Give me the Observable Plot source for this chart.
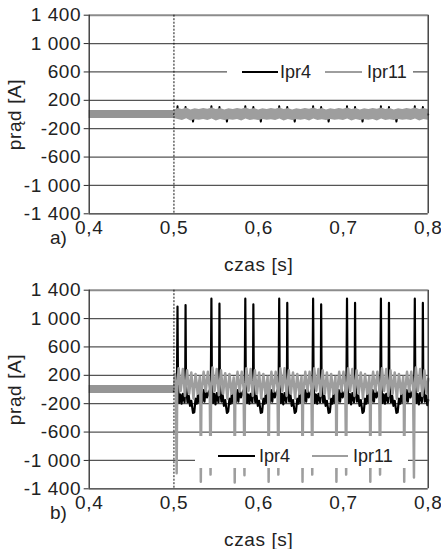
<!DOCTYPE html>
<html><head><meta charset="utf-8">
<script src="https://cdn.jsdelivr.net/npm/d3@7"></script>
<script src="https://cdn.jsdelivr.net/npm/@observablehq/plot@0.6"></script>
<style>
body{margin:0;background:#fff;font-family:"Liberation Sans",Arial,sans-serif;}
#wrap{position:relative;width:441px;height:549px;overflow:hidden;}
.panel{position:absolute;left:0;}
.lg{position:absolute;background:#fff;}
.sw{position:absolute;height:0;}
.tx{position:absolute;font-size:18px;color:#222;line-height:18px;white-space:nowrap;}
</style></head><body><div id="wrap"></div>
<script>
// ---- axis ticks ----
const xTicks = [0.4, 0.5, 0.6, 0.7, 0.8];
const xTickLabels = ["0,4", "0,5", "0,6", "0,7", "0,8"];
const yTicks = [-1400, -1000, -600, -200, 200, 600, 1000, 1400];
const yTickLabels = ["-1 400", "-1 000", "-600", "-200", "200", "600", "1 000", "1 400"];
const seriesNames = ["Ipr4", "Ipr11"];
const panelTags = ["a)", "b)"];
const switchTime = [0.5];

// ---- before switching: both currents form a narrow band (t, upper, lower) ----
const preBandT = [0.400, 0.500];
const preBandHi = [55, 55];
const preBandLo = [-55, -55];

// ---- panel a) Ipr11 band after switching (t, upper, lower) ----
const a11T = [0.500,0.505,0.510,0.515,0.520,0.525,0.530,0.535,0.540,0.545,0.550,0.555,0.560,0.565,0.570,0.575,0.580,0.585,0.590,0.595,0.600,0.605,0.610,0.615,0.620,0.625,0.630,0.635,0.640,0.645,0.650,0.655,0.660,0.665,0.670,0.675,0.680,0.685,0.690,0.695,0.700,0.705,0.710,0.715,0.720,0.725,0.730,0.735,0.740,0.745,0.750,0.755,0.760,0.765,0.770,0.775,0.780,0.785,0.790,0.795,0.800];
const a11Hi = [55,85,70,90,65,80,70,85,75,90,70,85,65,80,70,85,75,90,70,85,65,80,70,85,75,90,70,85,65,80,70,85,75,90,70,85,65,80,70,85,75,90,70,85,65,80,70,85,75,90,70,85,65,80,70,85,75,90,70,85,70];
const a11Lo = [-55,-70,-85,-60,-90,-75,-80,-70,-85,-65,-90,-70,-85,-75,-80,-70,-90,-65,-85,-75,-85,-70,-80,-75,-85,-65,-90,-70,-85,-75,-80,-70,-90,-65,-85,-75,-85,-70,-80,-75,-85,-65,-90,-70,-85,-75,-80,-70,-90,-65,-85,-75,-85,-70,-80,-75,-85,-65,-90,-70,-80];

// ---- panel a) Ipr4 (t, value) ----
const a4 = [[0.5000,0],[0.5038,0],[0.5042,115],[0.5046,0],[0.5133,0],[0.5137,105],[0.5141,0],[0.5215,-20],[0.5225,-100],[0.5235,-20],
[0.5438,0],[0.5442,115],[0.5446,0],[0.5533,0],[0.5537,105],[0.5541,0],[0.5615,-20],[0.5625,-100],[0.5635,-20],
[0.5838,0],[0.5842,115],[0.5846,0],[0.5933,0],[0.5937,105],[0.5941,0],[0.6015,-20],[0.6025,-100],[0.6035,-20],
[0.6238,0],[0.6242,115],[0.6246,0],[0.6333,0],[0.6337,105],[0.6341,0],[0.6415,-20],[0.6425,-100],[0.6435,-20],
[0.6638,0],[0.6642,115],[0.6646,0],[0.6733,0],[0.6737,105],[0.6741,0],[0.6815,-20],[0.6825,-100],[0.6835,-20],
[0.7038,0],[0.7042,115],[0.7046,0],[0.7133,0],[0.7137,105],[0.7141,0],[0.7215,-20],[0.7225,-100],[0.7235,-20],
[0.7438,0],[0.7442,115],[0.7446,0],[0.7533,0],[0.7537,105],[0.7541,0],[0.7615,-20],[0.7625,-100],[0.7635,-20],
[0.7838,0],[0.7842,115],[0.7846,0],[0.7933,0],[0.7937,105],[0.7941,0],[0.8000,0]];

// ---- panel b) Ipr4 (t, value) ----
const b4 = [[0.5000,-20],[0.5035,30],[0.5042,1170],[0.5048,50],[0.5060,-190],[0.5075,-70],[0.5090,-200],[0.5105,-60],[0.5125,-180],[0.5133,40],[0.5137,1190],[0.5142,60],[0.5160,-180],[0.5175,-90],[0.5190,-230],[0.5205,-160],[0.5225,-330],[0.5240,-320],[0.5255,-130],[0.5270,-200],[0.5285,-50],[0.5300,-190],[0.5315,-30],[0.5330,-180],[0.5345,-10],[0.5360,-170],[0.5375,20],[0.5390,-110],
[0.5435,30],[0.5442,1280],[0.5448,50],[0.5460,-190],[0.5475,-60],[0.5490,-210],[0.5505,-50],[0.5525,-180],[0.5533,40],[0.5537,1210],[0.5542,60],[0.5560,-170],[0.5575,-80],[0.5590,-230],[0.5605,-150],[0.5625,-330],[0.5640,-310],[0.5655,-130],[0.5670,-200],[0.5685,-40],[0.5700,-190],[0.5715,-30],[0.5730,-180],[0.5745,-10],[0.5760,-170],[0.5775,20],[0.5790,-110],
[0.5835,30],[0.5842,1280],[0.5848,50],[0.5860,-190],[0.5875,-70],[0.5890,-200],[0.5905,-60],[0.5925,-180],[0.5933,40],[0.5937,1200],[0.5942,60],[0.5960,-180],[0.5975,-90],[0.5990,-230],[0.6005,-160],[0.6025,-330],[0.6040,-320],[0.6055,-130],[0.6070,-200],[0.6085,-50],[0.6100,-190],[0.6115,-30],[0.6130,-180],[0.6145,-10],[0.6160,-170],[0.6175,20],[0.6190,-110],
[0.6235,30],[0.6242,1280],[0.6248,50],[0.6260,-190],[0.6275,-60],[0.6290,-210],[0.6305,-50],[0.6325,-180],[0.6333,40],[0.6337,1220],[0.6342,60],[0.6360,-170],[0.6375,-80],[0.6390,-230],[0.6405,-150],[0.6425,-330],[0.6440,-310],[0.6455,-130],[0.6470,-200],[0.6485,-40],[0.6500,-190],[0.6515,-30],[0.6530,-180],[0.6545,-10],[0.6560,-170],[0.6575,20],[0.6590,-110],
[0.6635,30],[0.6642,1280],[0.6648,50],[0.6660,-190],[0.6675,-70],[0.6690,-200],[0.6705,-60],[0.6725,-180],[0.6733,40],[0.6737,1200],[0.6742,60],[0.6760,-180],[0.6775,-90],[0.6790,-230],[0.6805,-160],[0.6825,-330],[0.6840,-320],[0.6855,-130],[0.6870,-200],[0.6885,-50],[0.6900,-190],[0.6915,-30],[0.6930,-180],[0.6945,-10],[0.6960,-170],[0.6975,20],[0.6990,-110],
[0.7035,30],[0.7042,1280],[0.7048,50],[0.7060,-190],[0.7075,-60],[0.7090,-210],[0.7105,-50],[0.7125,-180],[0.7133,40],[0.7137,1220],[0.7142,60],[0.7160,-170],[0.7175,-80],[0.7190,-230],[0.7205,-150],[0.7225,-330],[0.7240,-310],[0.7255,-130],[0.7270,-200],[0.7285,-40],[0.7300,-190],[0.7315,-30],[0.7330,-180],[0.7345,-10],[0.7360,-170],[0.7375,20],[0.7390,-110],
[0.7435,30],[0.7442,1280],[0.7448,50],[0.7460,-190],[0.7475,-70],[0.7490,-200],[0.7505,-60],[0.7525,-180],[0.7533,40],[0.7537,1220],[0.7542,60],[0.7560,-180],[0.7575,-90],[0.7590,-230],[0.7605,-160],[0.7625,-330],[0.7640,-320],[0.7655,-130],[0.7670,-200],[0.7685,-50],[0.7700,-190],[0.7715,-30],[0.7730,-180],[0.7745,-10],[0.7760,-170],[0.7775,20],[0.7790,-110],
[0.7835,30],[0.7842,1280],[0.7848,50],[0.7860,-190],[0.7875,-60],[0.7890,-210],[0.7905,-50],[0.7925,-180],[0.7933,40],[0.7937,1220],[0.7942,60],[0.7960,-170],[0.7975,-80],[0.7990,-220],[0.8000,-150]];

// ---- panel b) Ipr11 (t, value) ----
const b11 = [[0.5000,0],[0.5012,220],[0.5022,20],[0.5032,-1180],[0.5038,-40],[0.5055,300],[0.5080,-20],[0.5105,290],[0.5130,-90],[0.5155,270],[0.5180,-60],[0.5205,240],[0.5230,-130],[0.5255,220],[0.5280,-60],[0.5305,180],[0.5312,-100],[0.5317,-1300],[0.5324,-60],[0.5350,250],[0.5375,-30],
[0.5400,250],[0.5422,20],[0.5432,-1200],[0.5438,-40],[0.5455,310],[0.5480,-20],[0.5505,290],[0.5530,-80],[0.5555,270],[0.5580,-60],[0.5605,230],[0.5630,-130],[0.5655,220],[0.5680,-60],[0.5705,170],[0.5712,-100],[0.5717,-1310],[0.5724,-60],[0.5750,250],[0.5775,-30],
[0.5800,250],[0.5822,20],[0.5832,-1210],[0.5838,-40],[0.5855,300],[0.5880,-20],[0.5905,290],[0.5930,-90],[0.5955,270],[0.5980,-60],[0.6005,240],[0.6030,-130],[0.6055,220],[0.6080,-60],[0.6105,180],[0.6112,-100],[0.6117,-1300],[0.6124,-60],[0.6150,250],[0.6175,-30],
[0.6200,250],[0.6222,20],[0.6232,-1200],[0.6238,-40],[0.6255,300],[0.6280,-20],[0.6305,300],[0.6330,-90],[0.6355,270],[0.6380,-60],[0.6405,240],[0.6430,-130],[0.6455,220],[0.6480,-60],[0.6505,180],[0.6512,-100],[0.6517,-1300],[0.6524,-60],[0.6550,250],[0.6575,-30],
[0.6600,250],[0.6622,20],[0.6632,-1200],[0.6638,-40],[0.6655,300],[0.6680,-20],[0.6705,290],[0.6730,-90],[0.6755,270],[0.6780,-60],[0.6805,240],[0.6830,-130],[0.6855,220],[0.6880,-60],[0.6905,180],[0.6912,-100],[0.6917,-1300],[0.6924,-60],[0.6950,250],[0.6975,-30],
[0.7000,250],[0.7022,20],[0.7032,-1200],[0.7038,-40],[0.7055,300],[0.7080,-20],[0.7105,290],[0.7130,-90],[0.7155,270],[0.7180,-60],[0.7205,240],[0.7230,-130],[0.7255,220],[0.7280,-60],[0.7305,180],[0.7312,-100],[0.7317,-1300],[0.7324,-60],[0.7350,250],[0.7375,-30],
[0.7400,250],[0.7422,20],[0.7432,-1200],[0.7438,-40],[0.7455,300],[0.7480,-20],[0.7505,290],[0.7530,-90],[0.7555,270],[0.7580,-60],[0.7605,240],[0.7630,-130],[0.7655,220],[0.7680,-60],[0.7705,180],[0.7712,-100],[0.7717,-1300],[0.7724,-60],[0.7750,250],[0.7775,-30],
[0.7800,250],[0.7822,20],[0.7832,-1240],[0.7838,-40],[0.7855,310],[0.7880,-20],[0.7905,290],[0.7930,-90],[0.7955,270],[0.7980,-60],[0.8000,150]];

// ---- colors ----
const C4 = "#000000", C11 = "#9e9e9e", CBAND = "#959595";

const preBand = preBandT.map((t, i) => ({t, hi: preBandHi[i], lo: preBandLo[i]}));
const aBand = a11T.map((t, i) => ({t, hi: a11Hi[i], lo: a11Lo[i]}));

function makePanel(h, dataMarks) {
  return Plot.plot({
    width: 441, height: h,
    marginLeft: 88.7, marginRight: 13.3, marginTop: 14.7, marginBottom: h - 213.3,
    style: {fontFamily: "'Liberation Sans', Arial, sans-serif", fontSize: "19px", letterSpacing: "0.6px", color: "#222", background: "transparent", overflow: "visible"},
    x: {domain: [0.4, 0.8]},
    y: {domain: [-1400, 1400]},
    marks: [
      Plot.ruleY(yTicks.filter(d => d !== 1400 && d !== -1400), {stroke: "#555", strokeWidth: 1.2}),
      Plot.ruleY([1400], {stroke: "#8c8c8c", strokeWidth: 2}),
      ...dataMarks,
      Plot.ruleX(switchTime, {stroke: "#111", strokeWidth: 1, strokeDasharray: "2,1.5"}),
      Plot.ruleX([0.4, 0.8], {stroke: "#2a2a2a", strokeWidth: 1.3}),
      Plot.ruleY([-1400], {stroke: "#2a2a2a", strokeWidth: 1.3}),
      Plot.axisY({ticks: yTicks, tickFormat: d => yTickLabels[yTicks.indexOf(d)], tickSize: 5, tickPadding: 3,
        stroke: "#2a2a2a", label: "prąd [A]", labelAnchor: "center", labelArrow: "none", labelOffset: 82}),
      Plot.axisX({ticks: xTicks, tickFormat: d => xTickLabels[xTicks.indexOf(d)], tickSize: 0, tickPadding: 7,
        label: "czas [s]", labelAnchor: "center", labelArrow: "none", labelOffset: 57})
    ]
  });
}

const bandMark = (data) => Plot.areaY(data, {x: "t", y1: "lo", y2: "hi", fill: CBAND});

const panelA = makePanel(275, [
  bandMark(preBand),
  Plot.line(a4, {x: d => d[0], y: d => d[1], stroke: C4, strokeWidth: 2}),
  Plot.areaY(aBand, {x: "t", y1: "lo", y2: "hi", fill: C11})
]);
const panelB = makePanel(274, [
  bandMark(preBand),
  Plot.line(b4, {x: d => d[0], y: d => d[1], stroke: C4, strokeWidth: 2.2}),
  Plot.line(b11, {x: d => d[0], y: d => d[1], stroke: C11, strokeWidth: 2.5})
]);

const wrap = document.getElementById("wrap");
[[panelA, 0], [panelB, 275]].forEach(([svg, top]) => {
  svg.classList.add("panel");
  svg.style.top = top + "px";
  wrap.appendChild(svg);
});

function el(cls, css, text) {
  const d = document.createElement("div");
  d.className = cls;
  Object.assign(d.style, css);
  if (text) d.textContent = text;
  wrap.appendChild(d);
  return d;
}
// legends (white boxes inside the plot, like the original)
function legend(box, y, sw4, tx4, sw11, tx11) {
  el("lg", {left: box[0] + "px", top: box[1] + "px", width: box[2] + "px", height: box[3] + "px"});
  el("sw", {left: sw4[0] + "px", width: (sw4[1] - sw4[0]) + "px", top: (y - 1) + "px", borderTop: "2px solid " + C4});
  el("tx", {left: tx4 + "px", top: (y - 9) + "px"}, seriesNames[0]);
  el("sw", {left: sw11[0] + "px", width: (sw11[1] - sw11[0]) + "px", top: (y - 1) + "px", borderTop: "2px solid " + C11});
  el("tx", {left: tx11 + "px", top: (y - 9) + "px"}, seriesNames[1]);
}
legend([227, 61, 186, 22], 71.5, [242, 278], 280, [325, 362], 367);
legend([195, 436, 213, 32], 456, [218, 255], 259, [312, 348], 353);

el("tx", {left: "50px", top: "229px", fontSize: "19px"}, panelTags[0]);
el("tx", {left: "50px", top: "504px", fontSize: "19px"}, panelTags[1]);
</script>
</body></html>
